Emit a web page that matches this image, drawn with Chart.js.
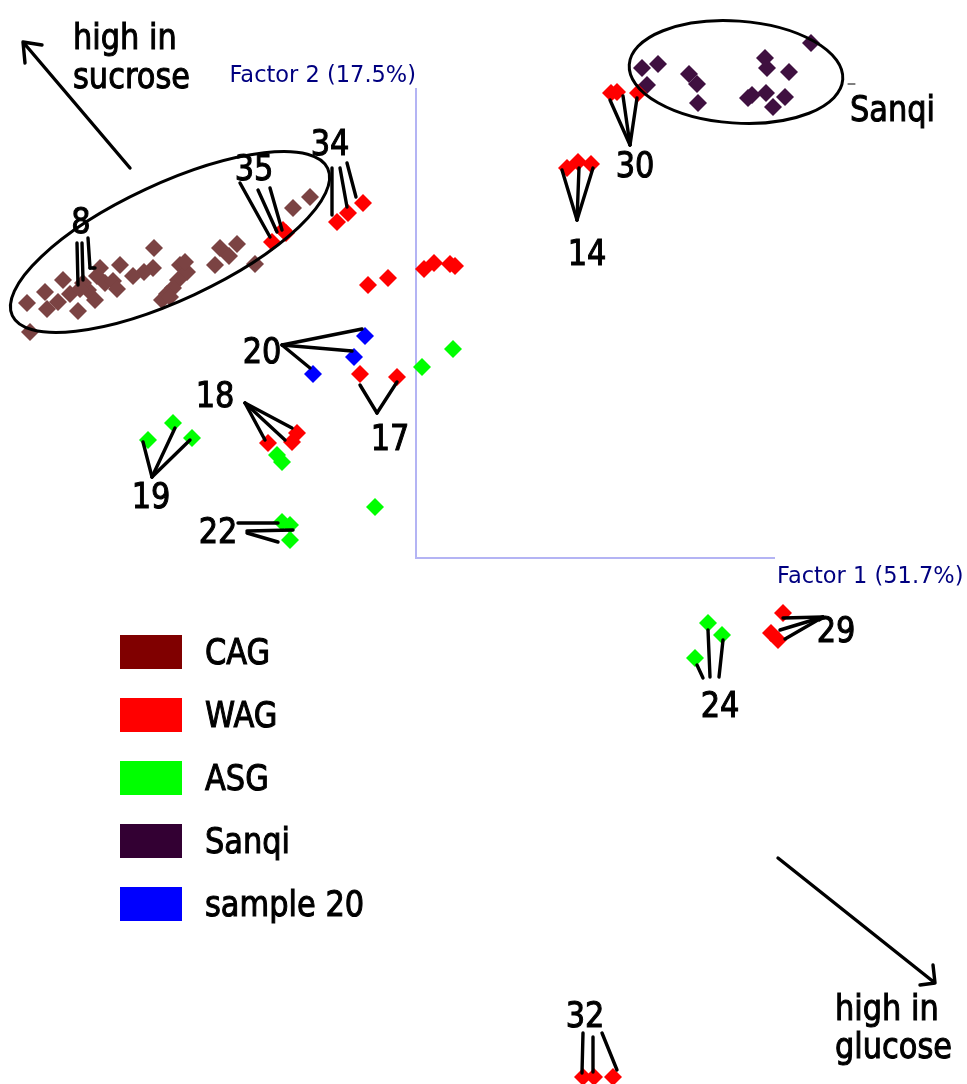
<!DOCTYPE html>
<html>
<head>
<meta charset="utf-8">
<script src="https://cdn.jsdelivr.net/npm/chart.js@4.4.1/dist/chart.umd.min.js"></script>
<style>
    html, body { margin: 0; padding: 0; background: #ffffff; }
    #chart { display: block; }
</style>
</head>
<body>
<canvas id="chart" width="967" height="1084"></canvas>
<script>
// factor scores: x = Factor 1, y = Factor 2
const CAG_X = [-1.06, -1.23, -1.79, -1.96, -1.87, -2.01, -1.61, -2.62, -2.63, -2.72, -2.83, -2.36, -2.29,
    -2.38, -2.43, -2.49, -2.54, -2.96, -3.16, -3.19, -3.11, -3.03, -2.99, -3.53, -3.71, -3.89, -3.69, -3.58,
    -3.46, -3.38, -3.21, -3.28, -3.33, -3.86, -2.31, -2.46, -3.36];
const CAG_Y = [3.61, 3.50, 3.14, 3.10, 3.02, 2.93, 2.94, 3.10, 2.90, 2.86, 2.82, 2.93, 2.86,
    2.78, 2.70, 2.64, 2.58, 2.93, 2.90, 2.82, 2.75, 2.77, 2.69, 2.78, 2.66, 2.55, 2.49, 2.56,
    2.64, 2.47, 2.58, 2.68, 2.75, 2.26, 2.96, 2.61, 2.69];

const WAG_X = [1.95, 2.01, 2.22, 1.51, 1.62, 1.75, -0.79, -0.68, -0.53, -1.44, -1.33, -1.30,
    -0.48, -0.28, 0.08, 0.18, 0.34, 0.39, -0.56, -0.19, -1.48, -1.19, -1.24, 3.67, 3.55, 3.62,
    1.67, 1.78, 1.97];
const WAG_Y = [4.65, 4.66, 4.65, 3.90, 3.96, 3.94, 3.36, 3.45, 3.55, 3.16, 3.28, 3.25,
    2.73, 2.80, 2.89, 2.95, 2.94, 2.92, 1.84, 1.81, 1.15, 1.25, 1.16, -0.55, -0.75, -0.82,
    -5.19, -5.19, -5.19];

const ASG_X = [0.06, 0.37, -0.41, -2.68, -2.43, -2.24, -1.39, -1.34, -1.34, -1.26, -1.26, 2.92, 3.06, 2.79];
const ASG_Y = [1.91, 2.09, 0.51, 1.18, 1.35, 1.20, 1.03, 0.96, 0.36, 0.33, 0.18, -0.65, -0.77, -1.00];

const SANQI_X = [3.95, 2.26, 2.42, 2.31, 2.73, 2.81, 2.82, 3.49, 3.51, 3.73, 3.36, 3.50, 3.69, 3.57, 3.32];
const SANQI_Y = [5.15, 4.90, 4.94, 4.73, 4.84, 4.74, 4.55, 5.00, 4.90, 4.86, 4.63, 4.65, 4.61, 4.51, 4.60];

const S20_X = [-0.51, -0.62, -1.03];
const S20_Y = [2.22, 2.01, 1.84];

const GROUP_NAMES = ["CAG", "WAG", "ASG", "Sanqi", "sample 20"];
const LEGEND_COLORS = ["#800000", "#ff0000", "#00ff00", "#330033", "#0000ff"];

const AXIS_X_LABEL = "Factor 1 (51.7%)";
const AXIS_Y_LABEL = "Factor 2 (17.5%)";

// sample number callouts (label text, label position, leader lines)
const CALLOUTS = [
    { text: "30", at: [2.19, 3.81], lines: [[2.14, 4.13, 1.94, 4.58], [2.14, 4.13, 2.07, 4.62], [2.14, 4.13, 2.21, 4.60]] },
    { text: "14", at: [1.71, 2.93], lines: [[1.61, 3.38, 1.46, 3.88], [1.61, 3.38, 1.63, 3.90], [1.61, 3.38, 1.77, 3.90]] },
    { text: "34", at: [-0.86, 4.03], lines: [[-0.84, 3.90, -0.84, 3.43], [-0.76, 3.90, -0.69, 3.51], [-0.69, 3.95, -0.60, 3.61]] },
    { text: "35", at: [-1.62, 3.78], lines: [[-1.76, 3.75, -1.46, 3.21], [-1.58, 3.68, -1.39, 3.26], [-1.46, 3.70, -1.34, 3.28]] },
    { text: "8", at: [-3.35, 3.25], lines: [[-3.39, 3.15, -3.38, 2.73], [-3.34, 3.15, -3.33, 2.78], [-3.28, 3.20, -3.26, 2.90], [-3.26, 2.90, -3.21, 2.90]] },
    { text: "20", at: [-1.54, 1.95], lines: [[-1.34, 2.13, -0.54, 2.29], [-1.34, 2.13, -0.64, 2.07], [-1.34, 2.13, -1.06, 1.90]] },
    { text: "17", at: [-0.26, 1.08], lines: [[-0.56, 1.73, -0.39, 1.45], [-0.39, 1.45, -0.19, 1.76]] },
    { text: "18", at: [-2.01, 1.51], lines: [[-1.71, 1.55, -1.51, 1.18], [-1.71, 1.55, -1.31, 1.18], [-1.71, 1.55, -1.24, 1.30]] },
    { text: "19", at: [-2.65, 0.50], lines: [[-2.64, 0.81, -2.73, 1.16], [-2.64, 0.81, -2.41, 1.30], [-2.64, 0.81, -2.26, 1.18]] },
    { text: "22", at: [-1.98, 0.15], lines: [[-1.78, 0.35, -1.38, 0.35], [-1.69, 0.27, -1.23, 0.28], [-1.69, 0.25, -1.38, 0.16]] },
    { text: "24", at: [3.04, -1.59], lines: [[2.81, -1.07, 2.87, -1.20], [2.92, -0.72, 2.94, -1.19], [3.07, -0.82, 3.03, -1.19]] },
    { text: "29", at: [4.20, -0.84], lines: [[4.07, -0.59, 3.67, -0.60], [4.07, -0.59, 3.64, -0.72], [4.07, -0.59, 3.69, -0.81]] },
    { text: "32", at: [1.69, -4.69], lines: [[1.67, -4.75, 1.66, -5.15], [1.77, -4.79, 1.77, -5.14], [1.86, -4.75, 2.01, -5.12]] },
];

// cx, cy, rx, ry in factor units, rotation in degrees (screen)
const ELLIPSES = [
    { cx: -2.46, cy: 3.16, rx: 1.74, ry: 0.58, rot: -25 },
    { cx: 3.20, cy: 4.86, rx: 1.07, ry: 0.51, rot: 4 },
];

const ARROWS = [
    { from: [-2.86, 3.90], to: [-3.93, 5.16], head: [[-3.91, 4.95], [-3.74, 5.13]] },
    { from: [3.62, -3.00], to: [5.19, -4.25], head: [[5.17, -4.07], [5.04, -4.27]] },
];

const NOTES = [
    { text: "high in", at: [-3.43, 5.09] },
    { text: "sucrose", at: [-3.43, 4.70] },
    { text: "high in", at: [4.19, -4.62] },
    { text: "glucose", at: [4.19, -5.00] },
    { text: "Sanqi", at: [4.34, 4.37] },
];

const BIG_FONT = "35px 'DejaVu Sans'";
const AXIS_FONT = "22.5px 'DejaVu Sans'";

function toPoints(xs, ys) {
    return xs.map((x, i) => ({ x, y: ys[i] }));
}

function drawText(ctx, text, x, y, align) {
    ctx.save();
    ctx.translate(x, y);
    ctx.scale(0.87, 1);
    ctx.font = BIG_FONT;
    ctx.fillStyle = "#000000";
    ctx.strokeStyle = "#000000";
    ctx.lineWidth = 1.1;
    ctx.textAlign = align || "center";
    ctx.textBaseline = "alphabetic";
    ctx.fillText(text, 0, 0);
    ctx.strokeText(text, 0, 0);
    ctx.restore();
}

const annotationPlugin = {
    id: "pcaAnnotations",
    beforeDatasetsDraw(chart) {
        const ctx = chart.ctx;
        const sx = chart.scales.x;
        const sy = chart.scales.y;
        const ox = sx.getPixelForValue(0);
        const oy = sy.getPixelForValue(0);
        ctx.save();
        ctx.strokeStyle = "#b4b4f4";
        ctx.lineWidth = 2;
        ctx.beginPath();
        ctx.moveTo(ox, sy.getPixelForValue(4.70));
        ctx.lineTo(ox, oy);
        ctx.lineTo(sx.getPixelForValue(3.59), oy);
        ctx.stroke();

        ctx.font = AXIS_FONT;
        ctx.fillStyle = "#000080";
        ctx.textBaseline = "alphabetic";
        ctx.textAlign = "right";
        ctx.fillText(AXIS_Y_LABEL, ox, sy.getPixelForValue(4.76));
        ctx.textAlign = "left";
        ctx.fillText(AXIS_X_LABEL, sx.getPixelForValue(3.61), sy.getPixelForValue(-0.25));
        ctx.restore();
    },
    afterDatasetsDraw(chart) {
        const ctx = chart.ctx;
        const sx = chart.scales.x;
        const sy = chart.scales.y;
        const px = (v) => sx.getPixelForValue(v);
        const py = (v) => sy.getPixelForValue(v);
        const unitX = Math.abs(px(1) - px(0));
        const unitY = Math.abs(py(1) - py(0));

        ctx.save();
        ctx.strokeStyle = "#000000";
        ctx.lineCap = "round";

        // leader lines and sample numbers
        CALLOUTS.forEach((c) => {
            ctx.lineWidth = 3.4;
            c.lines.forEach(([x1, y1, x2, y2]) => {
                ctx.beginPath();
                ctx.moveTo(px(x1), py(y1));
                ctx.lineTo(px(x2), py(y2));
                ctx.stroke();
            });
            drawText(ctx, c.text, px(c.at[0]), py(c.at[1]), "center");
        });

        // group ellipses
        ctx.lineWidth = 3;
        ELLIPSES.forEach((e) => {
            ctx.beginPath();
            ctx.ellipse(px(e.cx), py(e.cy), e.rx * unitX, e.ry * unitY, (e.rot * Math.PI) / 180, 0, Math.PI * 2);
            ctx.stroke();
        });

        // direction arrows
        ctx.lineWidth = 3.4;
        ARROWS.forEach((a) => {
            ctx.beginPath();
            ctx.moveTo(px(a.from[0]), py(a.from[1]));
            ctx.lineTo(px(a.to[0]), py(a.to[1]));
            a.head.forEach(([hx, hy]) => {
                ctx.moveTo(px(a.to[0]), py(a.to[1]));
                ctx.lineTo(px(hx), py(hy));
            });
            ctx.stroke();
        });

        NOTES.forEach((n) => drawText(ctx, n.text, px(n.at[0]), py(n.at[1]), "left"));

        // small tick beside the Sanqi label
        ctx.lineWidth = 1;
        ctx.beginPath();
        ctx.moveTo(px(4.32), py(4.74));
        ctx.lineTo(px(4.39), py(4.74));
        ctx.stroke();

        // legend
        const left = chart.chartArea.left + 120;
        const top = chart.chartArea.top + 635;
        GROUP_NAMES.forEach((name, i) => {
            const y = top + i * 63;
            ctx.fillStyle = LEGEND_COLORS[i];
            ctx.fillRect(left, y, 62, 34);
            drawText(ctx, name, left + 85, y + 29, "left");
        });
        ctx.restore();
    },
};

const datasets = [
    { label: "sample 20", data: toPoints(S20_X, S20_Y), backgroundColor: "#0000ff" },
    { label: "WAG", data: toPoints(WAG_X, WAG_Y), backgroundColor: "#ff0000" },
    { label: "ASG", data: toPoints(ASG_X, ASG_Y), backgroundColor: "#00ff00" },
    { label: "CAG", data: toPoints(CAG_X, CAG_Y), backgroundColor: "#7b4343" },
    { label: "Sanqi", data: toPoints(SANQI_X, SANQI_Y), backgroundColor: "#3f1040" },
].map((ds) => ({
    ...ds,
    pointStyle: "rectRot",
    pointRadius: 9,
    pointHoverRadius: 9,
    borderWidth: 0,
}));

new Chart(document.getElementById("chart").getContext("2d"), {
    type: "scatter",
    data: { datasets },
    options: {
        responsive: false,
        devicePixelRatio: 1,
        animation: false,
        layout: { padding: 0, autoPadding: false },
        plugins: {
            legend: { display: false },
            tooltip: { enabled: false },
        },
        scales: {
            x: { type: "linear", min: -4.16, max: 5.51, display: false },
            y: { type: "linear", min: -5.26, max: 5.58, display: false },
        },
    },
    plugins: [annotationPlugin],
});
</script>
</body>
</html>
